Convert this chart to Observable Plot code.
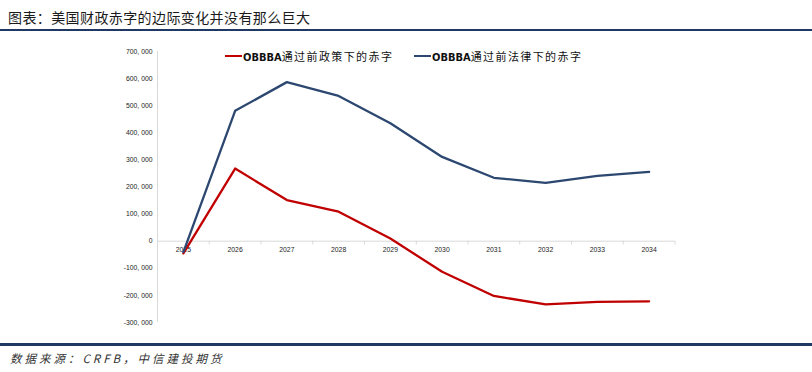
<!DOCTYPE html>
<html>
<head>
<meta charset="utf-8">
<script src="https://cdn.jsdelivr.net/npm/d3@7"></script>
<script src="https://cdn.jsdelivr.net/npm/@observablehq/plot@0.6"></script>
<style>
  html, body { margin: 0; padding: 0; background: #fff; }
  #page { position: relative; width: 812px; height: 372px; overflow: hidden; font-family: "Noto Sans CJK SC", "Noto Sans", sans-serif; }
  #title { position: absolute; left: 8px; top: 7px; font-size: 14px; letter-spacing: 0.4px; color: #1a1a1a; line-height: 20px; white-space: nowrap; }
  #rule1 { position: absolute; left: 0; top: 29px; width: 812px; height: 2px; background: #1f3864; }
  #rule2 { position: absolute; left: 0; top: 343px; width: 812px; height: 3px; background: #1f3864; }
  #source { position: absolute; left: 10px; top: 349px; font-size: 11.5px; font-style: italic; letter-spacing: 3px; color: #333; line-height: 18px; white-space: nowrap; }
  #chart { position: absolute; left: 0; top: 35px; }
  .leg { position: absolute; top: 48px; height: 16px; display: flex; align-items: center; font-size: 11px; letter-spacing: 1.4px; color: #111; white-space: nowrap; }
  .leg .sw { display: inline-block; width: 17px; height: 2px; margin-right: 1px; }
  .leg b { font-weight: 700; letter-spacing: 0; font-family: "Liberation Sans Narrow", "DejaVu Sans Condensed", sans-serif; }
</style>
</head>
<body>
<div id="page">
  <div id="title">图表：美国财政赤字的边际变化并没有那么巨大</div>
  <div id="rule1"></div>
  <div id="chart"></div>
  <div class="leg" style="left:225px"><span class="sw" style="background:#c00000"></span><span><b>OBBBA</b>通过前政策下的赤字</span></div>
  <div class="leg" style="left:414px"><span class="sw" style="background:#2c4770"></span><span><b>OBBBA</b>通过前法律下的赤字</span></div>
  <div id="rule2"></div>
  <div id="source">数据来源：CRFB，中信建投期货</div>
</div>
<script>
const years = [2025, 2026, 2027, 2028, 2029, 2030, 2031, 2032, 2033, 2034];
const seriesNames = ["OBBBA通过前政策下的赤字", "OBBBA通过前法律下的赤字"];
const policyDeficit = [-45000, 268000, 152000, 109000, 10000, -113000, -202000, -233000, -224000, -222000];
const lawDeficit = [-40000, 481000, 587000, 536000, 435000, 311000, 234000, 215000, 241000, 256000];
const yTicks = [-300000, -200000, -100000, 0, 100000, 200000, 300000, 400000, 500000, 600000, 700000];
const colors = ["#c00000", "#2c4770"];

const data = [];
years.forEach((y, i) => {
  data.push({year: y, value: policyDeficit[i], series: seriesNames[0]});
  data.push({year: y, value: lawDeficit[i], series: seriesNames[1]});
});
const boundaries = years.map(y => y + 0.5);
const fmt = v => v === 0 ? "0" : d3.format(",")(v).replace(/,/g, ", ").replace("−", "-");

const chart = Plot.plot({
  width: 812,
  height: 300,
  marginLeft: 157,
  marginRight: 137.5,
  marginTop: 16,
  marginBottom: 13,
  style: {fontFamily: "'Liberation Sans', Arial, sans-serif", color: "#222", background: "transparent"},
  x: {type: "linear", domain: [years[0] - 0.5, years[years.length - 1] + 0.5], axis: null},
  y: {domain: [-300000, 700000], axis: null},
  color: {domain: seriesNames, range: colors},
  marks: [
    Plot.ruleX([years[0] - 0.5], {y1: -300000, y2: 700000, stroke: "#d9d9d9", strokeWidth: 1}),
    Plot.ruleY([0], {stroke: "#d9d9d9", strokeWidth: 1}),
    Plot.ruleX(boundaries, {y1: 0, y2: -14000, stroke: "#d9d9d9", strokeWidth: 1}),
    Plot.axisY({ticks: yTicks, tickSize: 0, tickPadding: 5, tickFormat: fmt, fontSize: 6.8, label: null, fill: "#222"}),
    Plot.text(years, {x: d => d, y: 0, text: d => String(d), dy: 8.5, fontSize: 6.8, fill: "#222"}),
    Plot.line(data, {x: "year", y: "value", z: "series", stroke: "series", strokeWidth: 2.3, strokeLinejoin: "round"})
  ]
});
document.getElementById("chart").appendChild(chart);
</script>
</body>
</html>
